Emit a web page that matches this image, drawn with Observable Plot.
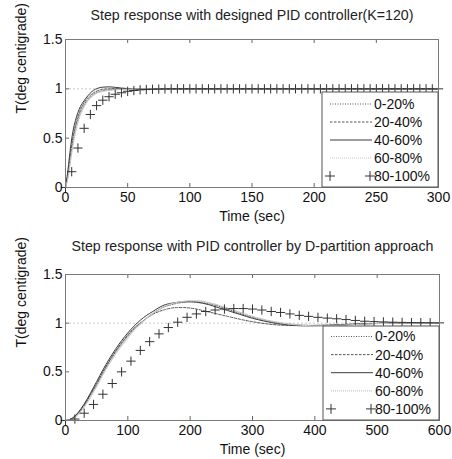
<!DOCTYPE html>
<html>
<head>
<meta charset="utf-8">
<script src="https://cdn.jsdelivr.net/npm/d3@7"></script>
<script src="https://cdn.jsdelivr.net/npm/@observablehq/plot@0.6"></script>
<style>
  html, body { margin: 0; padding: 0; background: #fff; }
  #charts svg { display: block; }
</style>
</head>
<body>
<div id="charts"></div>
<script>
// ---------- DATA ----------
const seriesNames = ["0-20%", "20-40%", "40-60%", "60-80%", "80-100%"];
const yTicks = [0, 0.5, 1, 1.5];

// Chart 1: designed PID controller (K=120)
const title1 = "Step response with designed PID controller(K=120)";
const xTicks1 = [0, 50, 100, 150, 200, 250, 300];
const lineTime1 = [0, 2, 4, 6, 8, 10, 12, 15, 18, 21, 24, 27, 30, 35, 40, 45, 50, 60, 80, 100, 150, 200, 250, 300];
const c1_0_20  = [0, 0.12, 0.30, 0.47, 0.60, 0.69, 0.76, 0.84, 0.89, 0.93, 0.955, 0.97, 0.98, 0.99, 0.995, 0.998, 1.0, 1.0, 1.0, 1.0, 1.0, 1.0, 1.0, 1.0];
const c1_20_40 = [0, 0.14, 0.34, 0.51, 0.63, 0.72, 0.79, 0.86, 0.91, 0.945, 0.97, 0.985, 0.995, 1.0, 1.002, 1.001, 1.0, 1.0, 1.0, 1.0, 1.0, 1.0, 1.0, 1.0];
const c1_40_60 = [0, 0.18, 0.40, 0.57, 0.68, 0.76, 0.82, 0.88, 0.93, 0.97, 0.995, 1.01, 1.017, 1.02, 1.015, 1.008, 1.003, 1.0, 1.0, 1.0, 1.0, 1.0, 1.0, 1.0];
const c1_60_80 = [0, 0.10, 0.27, 0.43, 0.56, 0.66, 0.74, 0.82, 0.88, 0.92, 0.95, 0.965, 0.975, 0.985, 0.99, 0.994, 0.997, 1.0, 1.0, 1.0, 1.0, 1.0, 1.0, 1.0];
const plusTime1 = [0, 5, 10, 15, 20, 25, 30, 35, 40, 45, 50, 55, 60, 65, 70, 75, 80, 85, 90, 95, 100,
  105, 110, 115, 120, 125, 130, 135, 140, 145, 150, 155, 160, 165, 170, 175, 180, 185, 190, 195, 200,
  205, 210, 215, 220, 225, 230, 235, 240, 245, 250, 255, 260, 265, 270, 275, 280, 285, 290, 295, 300];
const c1_80_100 = [0, 0.16, 0.40, 0.60, 0.74, 0.83, 0.885, 0.92, 0.945, 0.96, 0.975, 0.983, 0.99, 0.993, 0.996, 0.998, 0.999, 1.0, 1.0, 1.0, 1.0,
  1.0, 1.0, 1.0, 1.0, 1.0, 1.0, 1.0, 1.0, 1.0, 1.0, 1.0, 1.0, 1.0, 1.0, 1.0, 1.0, 1.0, 1.0, 1.0, 1.0,
  1.0, 1.0, 1.0, 1.0, 1.0, 1.0, 1.0, 1.0, 1.0, 1.0, 1.0, 1.0, 1.0, 1.0, 1.0, 1.0, 1.0, 1.0, 1.0, 1.0];

// Chart 2: PID controller by D-partition approach
const title2 = "Step response with PID controller by D-partition approach";
const xTicks2 = [0, 100, 200, 300, 400, 500, 600];
const lineTime2 = [0, 10, 20, 30, 40, 50, 60, 70, 80, 90, 100, 110, 120, 130, 140, 150, 160, 170, 180, 190, 200, 210, 220, 230, 240, 250, 260, 280, 300, 320, 340, 360, 380, 400, 420, 440, 460, 480, 500, 520, 540, 560, 580, 600];
const c2_0_20  = [0, 0.015, 0.07, 0.15, 0.26, 0.37, 0.49, 0.60, 0.70, 0.79, 0.87, 0.94, 1.0, 1.05, 1.10, 1.14, 1.17, 1.19, 1.205, 1.215, 1.22, 1.22, 1.21, 1.20, 1.185, 1.165, 1.145, 1.10, 1.06, 1.03, 1.005, 0.99, 0.98, 0.977, 0.978, 0.982, 0.988, 0.993, 0.997, 1.0, 1.001, 1.001, 1.0, 1.0];
const c2_20_40 = [0, 0.02, 0.075, 0.16, 0.27, 0.38, 0.50, 0.61, 0.71, 0.80, 0.88, 0.95, 1.0, 1.05, 1.09, 1.12, 1.14, 1.155, 1.16, 1.16, 1.155, 1.145, 1.13, 1.115, 1.10, 1.085, 1.07, 1.04, 1.015, 0.995, 0.982, 0.976, 0.975, 0.977, 0.981, 0.986, 0.991, 0.995, 0.998, 1.0, 1.0, 1.0, 1.0, 1.0];
const c2_40_60 = [0, 0.02, 0.08, 0.17, 0.28, 0.40, 0.52, 0.63, 0.73, 0.82, 0.90, 0.97, 1.03, 1.08, 1.12, 1.16, 1.19, 1.205, 1.215, 1.22, 1.22, 1.215, 1.205, 1.19, 1.17, 1.15, 1.13, 1.09, 1.05, 1.02, 0.995, 0.98, 0.973, 0.972, 0.975, 0.98, 0.987, 0.993, 0.997, 1.0, 1.002, 1.002, 1.001, 1.0];
const c2_60_80 = [0, 0.01, 0.06, 0.14, 0.24, 0.35, 0.47, 0.58, 0.68, 0.77, 0.85, 0.93, 0.99, 1.05, 1.10, 1.14, 1.175, 1.20, 1.215, 1.225, 1.23, 1.23, 1.225, 1.21, 1.195, 1.175, 1.155, 1.11, 1.07, 1.035, 1.01, 0.99, 0.978, 0.973, 0.974, 0.979, 0.985, 0.991, 0.996, 0.999, 1.001, 1.001, 1.0, 1.0];
const plusTime2 = [0, 15, 30, 45, 60, 75, 90, 105, 120, 135, 150, 165, 180, 195, 210, 225, 240, 255, 270, 285, 300,
  315, 330, 345, 360, 375, 390, 405, 420, 435, 450, 465, 480, 495, 510, 525, 540, 555, 570, 585, 600];
const c2_80_100 = [0, 0.015, 0.075, 0.165, 0.27, 0.38, 0.50, 0.61, 0.72, 0.81, 0.89, 0.955, 1.01, 1.06, 1.095, 1.12, 1.135, 1.145, 1.15, 1.15, 1.145,
  1.135, 1.12, 1.11, 1.095, 1.08, 1.07, 1.06, 1.052, 1.045, 1.037, 1.028, 1.02, 1.016, 1.013, 1.01, 1.008, 1.006, 1.005, 1.004, 1.003];

// ---------- STYLE ----------
const FONT = "'Liberation Sans', Arial, Helvetica, sans-serif";
const lineStyles = [
  {stroke: "#555", dash: "1,1.5", width: 1},
  {stroke: "#555", dash: "2.5,1.5", width: 1},
  {stroke: "#3a3a3a", dash: null, width: 1},
  {stroke: "#c4c4c4", dash: "1,1", width: 1.2}
];
const plusColor = "#333";

function makeChart(cfg) {
  const {title, xTicks, xMax, lineTime, lines, plusTime, plusVals, height,
         mt, mb, ml, mr, titleDy, xLabelDy} = cfg;
  const width = 452;
  const fw = width - ml - mr, fh = height - mt - mb;
  const marks = [];
  marks.push(Plot.ruleY([1], {stroke: "#c8c8c8", strokeDasharray: "2,2", strokeWidth: 1}));
  lines.forEach((vals, k) => {
    const st = lineStyles[k];
    marks.push(Plot.line(lineTime.map((t, i) => ({t, v: vals[i]})), {
      x: "t", y: "v", stroke: st.stroke, strokeWidth: st.width,
      strokeDasharray: st.dash, curve: "monotone-x"
    }));
  });
  marks.push(Plot.dot(plusTime.map((t, i) => ({t, v: plusVals[i]})), {
    x: "t", y: "v", symbol: "plus", r: 3.1, stroke: plusColor, strokeWidth: 1
  }));
  marks.push(Plot.tickX(xTicks, {x: d => d, stroke: "#666", insetTop: fh - 4}));
  marks.push(Plot.tickX(xTicks, {x: d => d, stroke: "#666", insetBottom: fh - 4}));
  marks.push(Plot.tickY(yTicks, {y: d => d, stroke: "#666", insetRight: fw - 4}));
  marks.push(Plot.tickY(yTicks, {y: d => d, stroke: "#666", insetLeft: fw - 4}));
  marks.push(Plot.frame({stroke: "#7a7a7a", strokeWidth: 1}));
  marks.push(Plot.axisX(xTicks, {tickSize: 0, tickPadding: 5, label: null, fill: "#111"}));
  marks.push(Plot.axisY(yTicks, {tickSize: 0, tickPadding: 3, label: null, fill: "#111",
    tickFormat: d => String(d)}));
  marks.push(Plot.text([title], {frameAnchor: "top", lineAnchor: "middle", dy: titleDy, fontSize: 14.2, fill: "#222"}));
  marks.push(Plot.text(["Time (sec)"], {frameAnchor: "bottom", lineAnchor: "middle", dy: xLabelDy, fontSize: 14, fill: "#111"}));
  marks.push(Plot.text(["T(deg centigrade)"], {frameAnchor: "left", dx: -44, rotate: -90, fontSize: 14, fill: "#111"}));

  const svg = Plot.plot({
    width, height,
    marginTop: mt, marginBottom: mb, marginLeft: ml, marginRight: mr,
    x: {domain: [0, xMax]},
    y: {domain: [0, 1.5]},
    style: {fontFamily: FONT, fontSize: "14px", color: "#111", background: "#fff", overflow: "visible"},
    marks
  });

  const lg = cfg.legend;
  const g = d3.select(svg).append("g").attr("font-family", FONT).attr("font-size", 14)
    .attr("text-anchor", "start");
  g.append("rect").attr("x", lg.x).attr("y", lg.y).attr("width", ml + fw - lg.x).attr("height", mt + fh - lg.y)
    .attr("fill", "#fff").attr("stroke", "#555").attr("stroke-width", 1);
  seriesNames.forEach((name, k) => {
    const yy = lg.row0 + k * lg.step;
    if (k < 4) {
      const st = lineStyles[k];
      g.append("line").attr("x1", lg.x + 8).attr("x2", lg.x + 50).attr("y1", yy).attr("y2", yy)
        .attr("stroke", st.stroke).attr("stroke-width", st.width)
        .attr("stroke-dasharray", st.dash);
    } else {
      const sym = d3.symbol(d3.symbolPlus, 34)();
      [lg.x + 8, lg.x + 48].forEach(px => {
        g.append("path").attr("d", sym).attr("transform", `translate(${px},${yy})`)
          .attr("fill", "none").attr("stroke", plusColor).attr("stroke-width", 1);
      });
    }
    g.append("text").attr("x", lg.x + 52).attr("y", yy).attr("dy", "0.35em").attr("fill", "#111").text(name);
  });
  return svg;
}

const chart1 = makeChart({
  title: title1, xTicks: xTicks1, xMax: 300, lineTime: lineTime1,
  lines: [c1_0_20, c1_20_40, c1_40_60, c1_60_80],
  plusTime: plusTime1, plusVals: c1_80_100,
  height: 230, mt: 39, mb: 43, ml: 65, mr: 14, titleDy: -24, xLabelDy: 29,
  legend: {x: 322, y: 92, row0: 104, step: 18}
});
const chart2 = makeChart({
  title: title2, xTicks: xTicks2, xMax: 600, lineTime: lineTime2,
  lines: [c2_0_20, c2_20_40, c2_40_60, c2_60_80],
  plusTime: plusTime2, plusVals: c2_80_100,
  height: 229, mt: 44, mb: 39, ml: 65, mr: 13, titleDy: -28, xLabelDy: 29,
  legend: {x: 323, y: 96, row0: 106.5, step: 18.1}
});
document.getElementById("charts").append(chart1, chart2);
</script>
</body>
</html>
